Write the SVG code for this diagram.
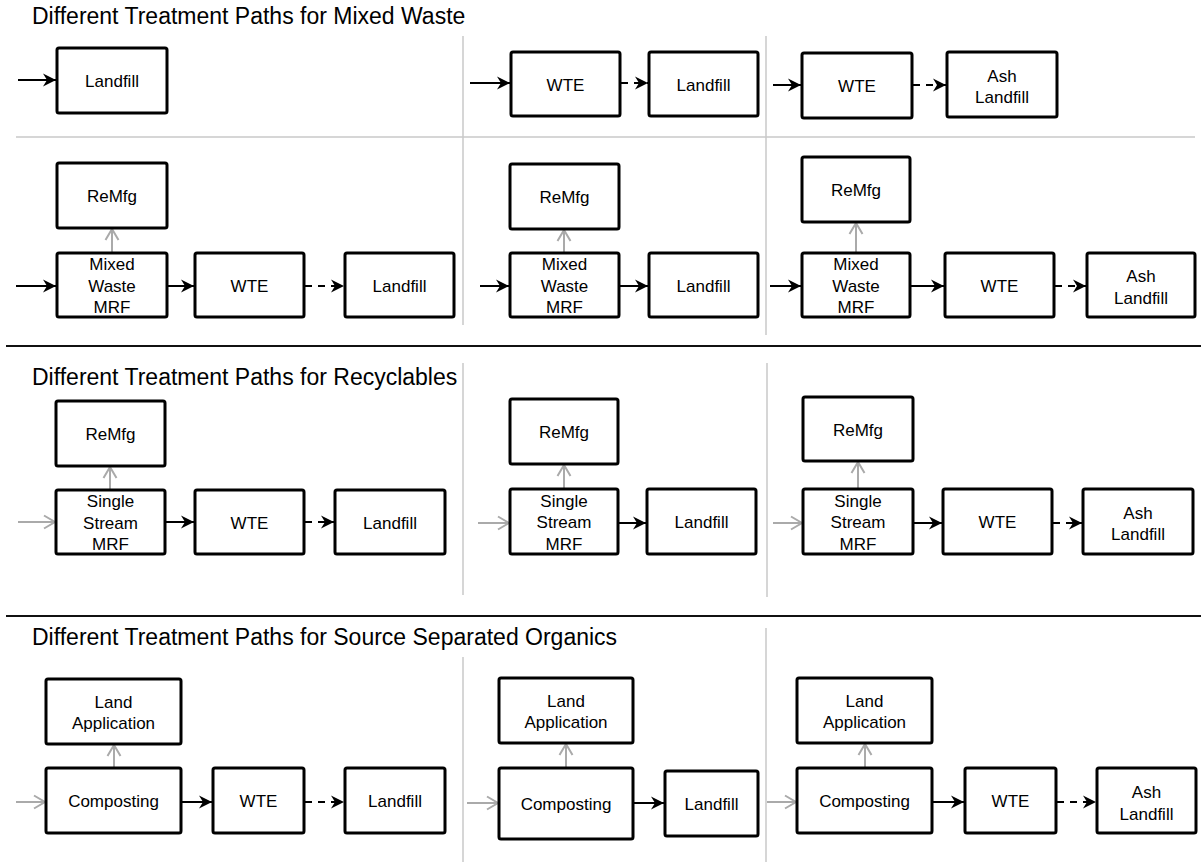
<svg xmlns="http://www.w3.org/2000/svg" width="1201" height="867" viewBox="0 0 1201 867">
<style>
.b{fill:#fff;stroke:#000;stroke-width:3}
.t{font-family:"Liberation Sans",Arial,sans-serif;font-size:17px;text-anchor:middle;fill:#000}
.h{font-family:"Liberation Sans",Arial,sans-serif;font-size:23px;fill:#000}
.k{stroke:#000;stroke-width:2;fill:none;marker-end:url(#ah)}
.d{stroke:#000;stroke-width:2;fill:none;stroke-dasharray:7 6;marker-end:url(#ah)}
.g{stroke:#aaa;stroke-width:2;fill:none;marker-end:url(#ag)}
.gl{stroke:#c8c8c8;stroke-width:1.5}
.bl{stroke:#111;stroke-width:2}
</style>
<defs>
<marker id="ah" markerUnits="userSpaceOnUse" markerWidth="16" markerHeight="16" refX="14" refY="8" orient="auto">
<path d="M1,1.5 L14,8 L1,14.5 L5,8 Z" fill="#000"/>
</marker>
<marker id="ag" markerUnits="userSpaceOnUse" markerWidth="16" markerHeight="16" refX="13" refY="8" orient="auto">
<path d="M2,1.5 L13,8 L2,14.5" fill="none" stroke="#aaa" stroke-width="2"/>
</marker>
</defs>
<rect width="1201" height="867" fill="#fff"/>
<g id="dividers">
<line class="gl" x1="16" y1="137" x2="1195" y2="137"/>
<line class="gl" x1="463" y1="36" x2="463" y2="325"/>
<line class="gl" x1="766" y1="36" x2="766" y2="335"/>
<line class="gl" x1="463" y1="363" x2="463" y2="595"/>
<line class="gl" x1="767" y1="363" x2="767" y2="597"/>
<line class="gl" x1="463" y1="657" x2="463" y2="862"/>
<line class="gl" x1="766" y1="628" x2="766" y2="862"/>
<line class="bl" x1="6" y1="346" x2="1201" y2="346"/>
<line class="bl" x1="6" y1="616" x2="1201" y2="616"/>
</g>
<g id="titles">
<text class="h" x="32" y="24">Different Treatment Paths for Mixed Waste</text>
<text class="h" x="32" y="385">Different Treatment Paths for Recyclables</text>
<text class="h" x="32" y="645">Different Treatment Paths for Source Separated Organics</text>
</g>
<g id="connectors">
<line class="k" x1="18" y1="80" x2="56" y2="80"/>
<line class="k" x1="470" y1="83" x2="510" y2="83"/>
<line class="d" x1="621" y1="83" x2="648" y2="83"/>
<line class="k" x1="773" y1="85" x2="801" y2="85"/>
<line class="d" x1="913" y1="85" x2="946" y2="85"/>
<line class="k" x1="16" y1="286" x2="56" y2="286"/>
<line class="g" x1="112" y1="252" x2="112" y2="229"/>
<line class="k" x1="168" y1="286" x2="194" y2="286"/>
<line class="d" x1="305" y1="286" x2="344" y2="286"/>
<line class="k" x1="480" y1="286" x2="509" y2="286"/>
<line class="g" x1="564" y1="252" x2="564" y2="230"/>
<line class="k" x1="620" y1="286" x2="648" y2="286"/>
<line class="k" x1="770" y1="286" x2="801" y2="286"/>
<line class="g" x1="856" y1="252" x2="856" y2="223"/>
<line class="k" x1="911" y1="286" x2="944" y2="286"/>
<line class="d" x1="1055" y1="286" x2="1086" y2="286"/>
<line class="g" x1="18" y1="522" x2="55" y2="522"/>
<line class="g" x1="110" y1="489" x2="110" y2="467"/>
<line class="k" x1="166" y1="522" x2="194" y2="522"/>
<line class="d" x1="305" y1="522" x2="334" y2="522"/>
<line class="g" x1="478" y1="523" x2="509" y2="523"/>
<line class="g" x1="564" y1="488" x2="564" y2="465"/>
<line class="k" x1="619" y1="523" x2="646" y2="523"/>
<line class="g" x1="773" y1="523" x2="802" y2="523"/>
<line class="g" x1="858" y1="488" x2="858" y2="462"/>
<line class="k" x1="914" y1="523" x2="942" y2="523"/>
<line class="d" x1="1053" y1="523" x2="1082" y2="523"/>
<line class="g" x1="16" y1="802" x2="45" y2="802"/>
<line class="g" x1="114" y1="767" x2="114" y2="745"/>
<line class="k" x1="182" y1="802" x2="212" y2="802"/>
<line class="d" x1="305" y1="802" x2="344" y2="802"/>
<line class="g" x1="467" y1="803" x2="498" y2="803"/>
<line class="g" x1="566" y1="767" x2="566" y2="744"/>
<line class="k" x1="634" y1="803" x2="664" y2="803"/>
<line class="g" x1="767" y1="802" x2="796" y2="802"/>
<line class="g" x1="865" y1="767" x2="865" y2="744"/>
<line class="k" x1="933" y1="802" x2="964" y2="802"/>
<line class="d" x1="1057" y1="802" x2="1096" y2="802"/>
</g>
<g id="n1"><rect class="b" x="57" y="48" width="110" height="65" rx="2"/><text class="t" x="112" y="87">Landfill</text></g>
<g id="n2"><rect class="b" x="511" y="52" width="109" height="64" rx="2"/><text class="t" x="565.5" y="90.5">WTE</text></g>
<g id="n3"><rect class="b" x="649" y="52" width="109" height="64" rx="2"/><text class="t" x="703.5" y="90.5">Landfill</text></g>
<g id="n4"><rect class="b" x="802" y="53" width="110" height="65" rx="2"/><text class="t" x="857" y="92">WTE</text></g>
<g id="n5"><rect class="b" x="947" y="52" width="110" height="65" rx="2"/><text class="t" x="1002" y="81.5">Ash<tspan x="1002" dy="21.5">Landfill</tspan></text></g>
<g id="n6"><rect class="b" x="57" y="163" width="110" height="65" rx="2"/><text class="t" x="112" y="202">ReMfg</text></g>
<g id="n7"><rect class="b" x="57" y="253" width="110" height="64" rx="2"/><text class="t" x="112" y="270">Mixed<tspan x="112" dy="21.5">Waste</tspan><tspan x="112" dy="21.5">MRF</tspan></text></g>
<g id="n8"><rect class="b" x="195" y="253" width="109" height="64" rx="2"/><text class="t" x="249.5" y="291.5">WTE</text></g>
<g id="n9"><rect class="b" x="345" y="253" width="109" height="64" rx="2"/><text class="t" x="399.5" y="291.5">Landfill</text></g>
<g id="n10"><rect class="b" x="510" y="164" width="109" height="65" rx="2"/><text class="t" x="564.5" y="203">ReMfg</text></g>
<g id="n11"><rect class="b" x="510" y="253" width="109" height="64" rx="2"/><text class="t" x="564.5" y="270">Mixed<tspan x="564.5" dy="21.5">Waste</tspan><tspan x="564.5" dy="21.5">MRF</tspan></text></g>
<g id="n12"><rect class="b" x="649" y="253" width="109" height="64" rx="2"/><text class="t" x="703.5" y="291.5">Landfill</text></g>
<g id="n13"><rect class="b" x="802" y="157" width="108" height="65" rx="2"/><text class="t" x="856" y="196">ReMfg</text></g>
<g id="n14"><rect class="b" x="802" y="253" width="108" height="64" rx="2"/><text class="t" x="856" y="270">Mixed<tspan x="856" dy="21.5">Waste</tspan><tspan x="856" dy="21.5">MRF</tspan></text></g>
<g id="n15"><rect class="b" x="945" y="253" width="109" height="64" rx="2"/><text class="t" x="999.5" y="291.5">WTE</text></g>
<g id="n16"><rect class="b" x="1087" y="253" width="108" height="64" rx="2"/><text class="t" x="1141" y="282">Ash<tspan x="1141" dy="21.5">Landfill</tspan></text></g>
<g id="n17"><rect class="b" x="56" y="401" width="109" height="65" rx="2"/><text class="t" x="110.5" y="440">ReMfg</text></g>
<g id="n18"><rect class="b" x="56" y="490" width="109" height="64" rx="2"/><text class="t" x="110.5" y="507">Single<tspan x="110.5" dy="21.5">Stream</tspan><tspan x="110.5" dy="21.5">MRF</tspan></text></g>
<g id="n19"><rect class="b" x="195" y="490" width="109" height="64" rx="2"/><text class="t" x="249.5" y="528.5">WTE</text></g>
<g id="n20"><rect class="b" x="335" y="490" width="110" height="64" rx="2"/><text class="t" x="390" y="528.5">Landfill</text></g>
<g id="n21"><rect class="b" x="510" y="399" width="108" height="65" rx="2"/><text class="t" x="564" y="438">ReMfg</text></g>
<g id="n22"><rect class="b" x="510" y="489" width="108" height="65" rx="2"/><text class="t" x="564" y="506.5">Single<tspan x="564" dy="21.5">Stream</tspan><tspan x="564" dy="21.5">MRF</tspan></text></g>
<g id="n23"><rect class="b" x="647" y="489" width="109" height="65" rx="2"/><text class="t" x="701.5" y="528">Landfill</text></g>
<g id="n24"><rect class="b" x="803" y="397" width="110" height="64" rx="2"/><text class="t" x="858" y="435.5">ReMfg</text></g>
<g id="n25"><rect class="b" x="803" y="489" width="110" height="65" rx="2"/><text class="t" x="858" y="506.5">Single<tspan x="858" dy="21.5">Stream</tspan><tspan x="858" dy="21.5">MRF</tspan></text></g>
<g id="n26"><rect class="b" x="943" y="489" width="109" height="65" rx="2"/><text class="t" x="997.5" y="528">WTE</text></g>
<g id="n27"><rect class="b" x="1083" y="489" width="110" height="65" rx="2"/><text class="t" x="1138" y="518.5">Ash<tspan x="1138" dy="21.5">Landfill</tspan></text></g>
<g id="n28"><rect class="b" x="46" y="679" width="135" height="65" rx="2"/><text class="t" x="113.5" y="707.5">Land<tspan x="113.5" dy="21.5">Application</tspan></text></g>
<g id="n29"><rect class="b" x="46" y="768" width="135" height="65" rx="2"/><text class="t" x="113.5" y="807">Composting</text></g>
<g id="n30"><rect class="b" x="213" y="768" width="91" height="65" rx="2"/><text class="t" x="258.5" y="807">WTE</text></g>
<g id="n31"><rect class="b" x="345" y="768" width="100" height="65" rx="2"/><text class="t" x="395" y="807">Landfill</text></g>
<g id="n32"><rect class="b" x="499" y="678" width="134" height="65" rx="2"/><text class="t" x="566" y="706.5">Land<tspan x="566" dy="21.5">Application</tspan></text></g>
<g id="n33"><rect class="b" x="499" y="768" width="134" height="71" rx="2"/><text class="t" x="566" y="810">Composting</text></g>
<g id="n34"><rect class="b" x="665" y="771" width="93" height="65" rx="2"/><text class="t" x="711.5" y="810">Landfill</text></g>
<g id="n35"><rect class="b" x="797" y="678" width="135" height="65" rx="2"/><text class="t" x="864.5" y="706.5">Land<tspan x="864.5" dy="21.5">Application</tspan></text></g>
<g id="n36"><rect class="b" x="797" y="768" width="135" height="65" rx="2"/><text class="t" x="864.5" y="807">Composting</text></g>
<g id="n37"><rect class="b" x="965" y="768" width="91" height="65" rx="2"/><text class="t" x="1010.5" y="807">WTE</text></g>
<g id="n38"><rect class="b" x="1097" y="768" width="99" height="65" rx="2"/><text class="t" x="1146.5" y="798">Ash<tspan x="1146.5" dy="21.5">Landfill</tspan></text></g>
</svg>
